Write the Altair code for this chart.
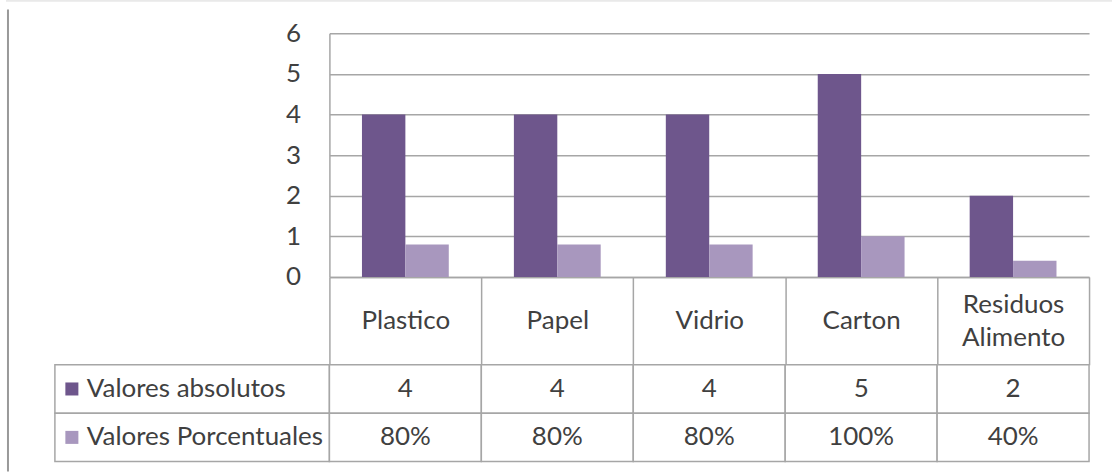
import altair as alt
import pandas as pd

categories = ["Plastico", "Papel", "Vidrio", "Carton", "Residuos Alimento"]
series_names = ["Valores absolutos", "Valores Porcentuales"]
absolutos = [4, 4, 4, 5, 2]
porcentuales = [0.8, 0.8, 0.8, 1.0, 0.4]
y_ticks = [0, 1, 2, 3, 4, 5, 6]
colors = ["#6E568C", "#A897BE"]

rows = []
for c, a, p in zip(categories, absolutos, porcentuales):
    rows.append({"categoria": c, "serie": series_names[0], "valor": a, "texto": f"{a}"})
    rows.append({"categoria": c, "serie": series_names[1], "valor": p, "texto": f"{round(p * 100)}%"})
df = pd.DataFrame(rows)
legend_df = pd.DataFrame({"serie": series_names})
frame_df = pd.DataFrame({"k": [0]})

FONT = "Lato"
TXT = "#404040"
LINE = "#A6A6A6"
W_LEFT, W_PLOT, H_PLOT, H_TABLE, H_CAT = 275, 761, 244, 97, 88
FS = 26

color_scale = alt.Scale(domain=series_names, range=colors)
band = alt.Scale(paddingInner=0, paddingOuter=0)

bars = alt.Chart(df).mark_bar().encode(
    x=alt.X("categoria:N", sort=categories, scale=band,
            axis=alt.Axis(title=None, tickBand="extent", tickSize=H_CAT, tickColor=LINE, tickWidth=1.5,
                          domainColor=LINE, domainWidth=1.5, labelAngle=0, labelFont=FONT,
                          labelFontSize=FS, labelColor=TXT,
                          labelPadding={"condition": {"test": "indexof(datum.label, ' ') >= 0", "value": -60},
                                        "value": -44},
                          labelBaseline="middle",
                          labelLineHeight=33, labelExpr="split(datum.label, ' ')")),
    xOffset=alt.XOffset("serie:N", sort=series_names,
                        scale=alt.Scale(paddingInner=0, paddingOuter=0.75)),
    y=alt.Y("valor:Q", scale=alt.Scale(domain=[0, 6], nice=False),
            axis=alt.Axis(title=None, values=y_ticks, ticks=False, domainColor=LINE, domainWidth=1.5,
                          gridColor=LINE, gridWidth=1.5, labelFont=FONT, labelFontSize=FS,
                          labelColor=TXT, labelPadding=29)),
    color=alt.Color("serie:N", scale=color_scale, legend=None),
).properties(width=W_PLOT, height=H_PLOT)

tbase = alt.Chart(df)
tx = alt.X("categoria:N", sort=categories, scale=band, axis=None)
ty = alt.Y("serie:N", sort=series_names, scale=band, axis=None)
cells = tbase.mark_rect(fill="white", stroke=LINE, strokeWidth=1.5).encode(x=tx, y=ty)
texts = tbase.mark_text(font=FONT, fontSize=FS, color=TXT).encode(x=tx, y=ty, text="texto:N")
right_table = (cells + texts).properties(width=W_PLOT, height=H_TABLE)

lbase = alt.Chart(legend_df)
lcells = lbase.mark_rect(fill="white", stroke=LINE, strokeWidth=1.5).encode(y=ty)
lsq = lbase.mark_square(size=170, opacity=1).encode(
    x=alt.value(17), y=ty, color=alt.Color("serie:N", scale=color_scale, legend=None))
ltext = lbase.mark_text(font=FONT, fontSize=FS, color=TXT, align="left").encode(
    x=alt.value(32), y=ty, text="serie:N")
left_table = (lcells + lsq + ltext).properties(width=W_LEFT, height=H_TABLE)

fbase = alt.Chart(frame_df)
top_rule = fbase.mark_rule(color="#D9D9D9", strokeWidth=1).encode(
    x=alt.value(-49), x2=alt.value(1059), y=alt.value(-32.5))
left_rule = fbase.mark_rule(color="#999999", strokeWidth=2).encode(
    x=alt.value(-47), y=alt.value(-24), y2=alt.value(439))
spacer = (top_rule + left_rule).properties(width=W_LEFT, height=H_PLOT)

chart = alt.concat(
    spacer, bars, left_table, right_table, columns=2,
    spacing={"row": H_CAT, "column": 0}, bounds="flush",
).configure_view(strokeWidth=0).properties(
    padding={"left": 5, "top": 0, "right": 0, "bottom": 0}, background="white")

chart.save("out.html", embed_options={"renderer": "svg", "actions": False})
